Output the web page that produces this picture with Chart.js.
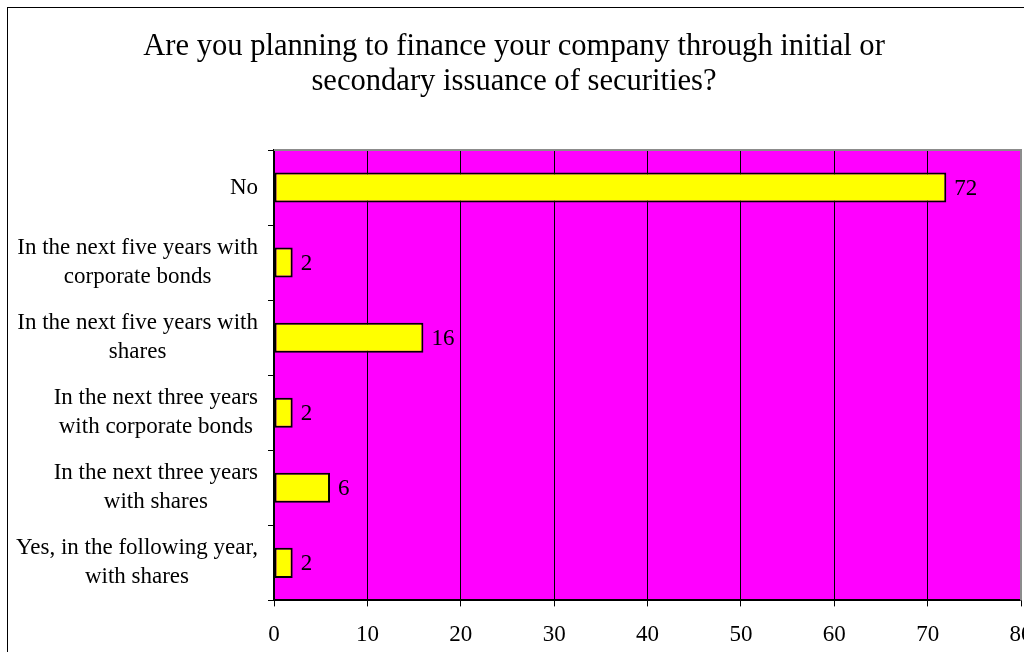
<!DOCTYPE html>
<html>
<head>
<meta charset="utf-8">
<script src="https://cdn.jsdelivr.net/npm/chart.js@4.4.1/dist/chart.umd.min.js"></script>
<style>
  html, body { margin: 0; padding: 0; background: #fff; overflow: hidden; width: 1024px; height: 652px; }
  #frame { position: absolute; left: 7px; top: 7px; width: 1100px; height: 800px; border: 1px solid #000; }
  #chart { position: absolute; left: 0; top: 0; }
</style>
</head>
<body>
<div id="frame"></div>
<canvas id="chart" width="1040" height="671"></canvas>
<script>
// data
const titleLines = [
    "Are you planning to finance your company through initial or",
    "secondary issuance of securities?"
];
const categories = [
    ["No"],
    ["In the next five years with", "corporate bonds"],
    ["In the next five years with", "shares"],
    ["In the next three years", "with corporate bonds"],
    ["In the next three years", "with shares"],
    ["Yes, in the following year,", "with shares"]
];
const answers = [72, 2, 16, 2, 6, 2];
const xMin = 0;
const xMax = 80;
const xStep = 10;

const serif = "'Liberation Serif', 'Times New Roman', serif";

// magenta plot area with grey top/right edge
const plotArea = {
    id: "plotArea",
    beforeDraw(chart) {
        const { ctx, chartArea: a } = chart;
        ctx.save();
        ctx.fillStyle = "#ff00ff";
        ctx.fillRect(a.left, a.top, a.right - a.left, a.bottom - a.top);
        ctx.restore();
    },
    afterDraw(chart) {
        const { ctx, chartArea: a } = chart;
        ctx.save();
        ctx.strokeStyle = "#8c8c8c";
        ctx.lineWidth = 2;
        ctx.beginPath();
        ctx.moveTo(a.left, a.top);
        ctx.lineTo(a.right, a.top);
        ctx.lineTo(a.right, a.bottom);
        ctx.stroke();
        ctx.restore();
    }
};

// category labels: block right-aligned, lines centred inside the block
const catLabels = {
    id: "catLabels",
    afterDraw(chart) {
        const { ctx } = chart;
        const y = chart.scales.y;
        const right = y.right - 16;
        const lh = 29;
        ctx.save();
        ctx.font = "23px " + serif;
        ctx.fillStyle = "#000";
        ctx.textAlign = "center";
        ctx.textBaseline = "middle";
        categories.forEach((lines, i) => {
            const w = Math.max(...lines.map(l => ctx.measureText(l).width));
            const cx = right - w / 2;
            const cy = y.getPixelForValue(i);
            const top = cy - (lines.length - 1) * lh / 2;
            lines.forEach((l, j) => ctx.fillText(l, cx, top + j * lh));
        });
        ctx.restore();
    }
};

// value next to each bar
const valueLabels = {
    id: "valueLabels",
    afterDatasetsDraw(chart) {
        const { ctx } = chart;
        const meta = chart.getDatasetMeta(0);
        ctx.save();
        ctx.font = "23px " + serif;
        ctx.fillStyle = "#000";
        ctx.textAlign = "left";
        ctx.textBaseline = "middle";
        meta.data.forEach((bar, i) => {
            ctx.fillText(String(answers[i]), bar.x + 8, bar.y + 1);
        });
        ctx.restore();
    }
};

new Chart(document.getElementById("chart"), {
    type: "bar",
    data: {
        labels: categories,
        datasets: [
            {
                data: answers,
                backgroundColor: "#ffff00",
                borderColor: "#000",
                borderWidth: 2,
                borderSkipped: false,
                barPercentage: 0.4,
                categoryPercentage: 1,
            },
        ],
    },
    options: {
        indexAxis: "y",
        responsive: false,
        animation: false,
        layout: { padding: { left: 7, right: 19, top: 20, bottom: 7 } },
        plugins: {
            legend: { display: false },
            tooltip: { enabled: false },
            title: {
                display: true,
                text: titleLines,
                color: "#000",
                font: { family: serif, size: 30.6, weight: "normal", lineHeight: 1.144 },
                padding: { top: 9.5, bottom: 50.5 },
            },
        },
        scales: {
            x: {
                min: xMin,
                max: xMax,
                ticks: {
                    stepSize: xStep,
                    color: "#000",
                    padding: 15,
                    font: { family: serif, size: 23 },
                },
                grid: { color: "#000", lineWidth: 1, tickLength: 6 },
                border: { display: true, color: "#000", width: 2 },
                afterFit(scale) {
                    // let the "80" run off the right edge like the original
                    scale.paddingLeft = 0;
                    scale.paddingRight = 0;
                },
            },
            y: {
                ticks: { display: false },
                grid: {
                    offset: true,
                    drawOnChartArea: false,
                    color: "#000",
                    tickLength: 6,
                },
                border: { display: true, color: "#000", width: 2 },
                afterFit(scale) {
                    scale.width = 267;
                },
            },
        },
    },
    plugins: [plotArea, catLabels, valueLabels],
});
</script>
</body>
</html>
